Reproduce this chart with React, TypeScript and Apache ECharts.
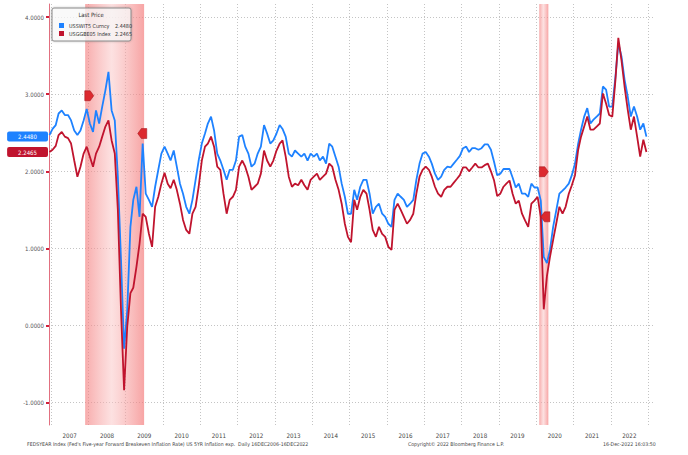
import React, { useEffect, useRef } from "react";
import * as echarts from "echarts";

// First monthly observation: Dec 2006; one value per month through Dec 2022
const START_YEAR = 2006;
const START_MONTH = 12;

// USSWIT5 Curncy (blue)
const usswit5 = [
  2.47,
  2.55, 2.6, 2.75, 2.79, 2.73, 2.73, 2.66, 2.53, 2.47, 2.53, 2.66, 2.81,
  2.62, 2.51, 2.79, 2.62, 2.84, 3.05, 3.29, 2.79, 2.66, 1.93, 0.85, -0.3,
  0.2, 1.28, 1.63, 1.8, 1.41, 2.36, 1.71, 1.63, 1.54, 1.8, 2.02, 2.23,
  2.32, 2.23, 2.14, 2.27, 2.06, 1.84, 1.71, 1.54, 1.45, 1.63, 1.89, 2.14,
  2.36, 2.49, 2.62, 2.71, 2.53, 2.23, 2.14, 2.02, 1.89, 2.02, 2.02, 2.14,
  2.45, 2.47, 2.32, 2.23, 2.06, 2.1, 2.23, 2.32, 2.6, 2.49, 2.36, 2.4,
  2.49, 2.6, 2.55, 2.45, 2.23, 2.19, 2.27, 2.23, 2.19, 2.23, 2.14, 2.23,
  2.19, 2.23, 2.14, 2.19, 2.1, 2.36, 2.32, 2.19, 2.06, 1.84, 1.67, 1.45,
  1.45, 1.76, 1.63, 1.8, 1.89, 1.89, 1.71, 1.45, 1.54, 1.58, 1.45, 1.41,
  1.32, 1.28, 1.63, 1.71, 1.67, 1.63, 1.54, 1.58, 1.63, 1.89, 2.1, 2.23,
  2.25, 2.19, 2.1, 1.97, 1.89, 1.93, 2.02, 2.06, 2.05, 2.1, 2.15, 2.2,
  2.3, 2.32, 2.25, 2.3, 2.3, 2.28, 2.3, 2.35, 2.35, 2.28, 2.12, 1.95,
  1.97, 2.03, 2.03, 2.03, 1.92, 1.79, 1.84, 1.71, 1.71, 1.67, 1.84, 1.79,
  1.79, 1.62, 0.89, 0.81, 0.98, 1.28, 1.49, 1.71, 1.75, 1.79, 1.84, 1.95,
  2.1, 2.36, 2.54, 2.71, 2.82, 2.62, 2.67, 2.71, 2.75, 3.1, 3.06, 2.84,
  2.84, 3.23, 3.66, 3.49, 3.19, 2.97, 2.71, 2.84, 2.71, 2.54, 2.62, 2.45,
];

// USGGBE05 Index (red)
const usggbe05 = [
  2.25,
  2.28, 2.33, 2.47, 2.51, 2.45, 2.43, 2.36, 2.14, 1.93, 2.06, 2.23, 2.32,
  2.19, 2.06, 2.23, 2.32, 2.45, 2.58, 2.66, 2.4, 2.23, 1.5, 0.2, -0.84,
  -0.01, 0.42, 0.49, 0.76, 1.06, 1.45, 1.41, 1.19, 1.02, 1.54, 1.67, 1.84,
  1.98, 1.84, 1.78, 1.89, 1.76, 1.58, 1.37, 1.24, 1.19, 1.45, 1.54, 1.8,
  2.14, 2.32, 2.36, 2.45, 2.32, 2.06, 2.02, 1.71, 1.45, 1.63, 1.67, 1.76,
  2.06, 2.14, 2.06, 1.93, 1.76, 1.8, 1.84, 1.97, 2.27, 2.14, 2.06, 2.14,
  2.27, 2.36, 2.4, 2.19, 1.93, 1.8, 1.84, 1.82, 1.89, 1.82, 1.76, 1.89,
  1.93, 1.97, 1.89, 1.93, 1.97, 2.1, 2.06, 1.89, 1.76, 1.58, 1.32, 1.15,
  1.08, 1.63, 1.5, 1.67, 1.76, 1.71, 1.5, 1.24, 1.15, 1.28, 1.19, 1.15,
  1.02, 0.98, 1.5, 1.58, 1.5, 1.41, 1.32, 1.37, 1.45, 1.71, 1.93, 2.02,
  2.06, 2.02, 1.93, 1.8, 1.71, 1.67, 1.76, 1.8, 1.8, 1.85, 1.9, 1.95,
  2.05, 2.05, 2.0, 2.05, 2.1, 2.05, 2.05, 2.08, 2.1, 2.0, 1.88, 1.68,
  1.71, 1.8, 1.84, 1.88, 1.71, 1.58, 1.62, 1.45, 1.36, 1.28, 1.58, 1.62,
  1.67, 1.41, 0.21, 0.64, 0.89, 1.11, 1.32, 1.54, 1.45, 1.54, 1.71, 1.82,
  1.95, 2.28, 2.45, 2.58, 2.71, 2.54, 2.54, 2.58, 2.62, 3.01, 2.88, 2.73,
  2.71, 3.19, 3.73, 3.44, 3.1, 2.8, 2.54, 2.71, 2.45, 2.19, 2.41, 2.25,
];

const blueName = "USSWIT5 Curncy";
const redName = "USGGBE05 Index";
const blueLast = 2.448;
const redLast = 2.2465;

const recessions = [
  ["2007-12-01", "2009-06-30"],
  ["2020-02-01", "2020-04-30"],
];

const eventDates = ["2008-01-10", "2009-06-12", "2020-03-17", "2020-04-01"];
const eventValues = [2.98, 2.49, 1.995, 1.41];
const eventPointsRight = [true, false, true, false];

const yearLabels = [2007, 2008, 2009, 2010, 2011, 2012, 2013, 2014, 2015, 2016, 2017, 2018, 2019, 2020, 2021, 2022];
const yTicks = [-1, 0, 1, 2, 3, 4];

const footerLeft =
  "FEDSYEAR Index (Fed's Five-year Forward Breakeven Inflation Rate) US 5YR Inflation exp.  Daily 16DEC2006-16DEC2022";
const footerMid = "Copyright\u00a9 2022 Bloomberg Finance L.P.";
const footerRight = "16-Dec-2022 16:03:50";

const FONT = "'Liberation Sans Narrow', 'Arial Narrow', 'DejaVu Sans Condensed', 'Liberation Sans', sans-serif";
const BLUE = "#1e82ff";
const RED = "#c0142e";

const PENT_RIGHT = "path://M0,0 L6,0 L10,5 L6,10 L0,10 Z";
const PENT_LEFT = "path://M4,0 L10,0 L10,10 L4,10 L0,5 Z";

function monthTs(i: number) {
  return Date.UTC(START_YEAR, START_MONTH - 1 + i, 16);
}
function ts(s: string) {
  return Date.parse(s + "T00:00:00Z");
}

export default function App() {
  const ref = useRef<HTMLDivElement>(null);

  useEffect(() => {
    if (!ref.current) return;
    const chart = echarts.init(ref.current, undefined, { renderer: "svg" });

    const blueData = usswit5.map((v, i) => [monthTs(i), v]);
    const redData = usggbe05.map((v, i) => [monthTs(i), v]);
    const yearStarts = [...yearLabels, 2023].map((y) => Date.UTC(y, 0, 1));
    const midYears = yearLabels.map((y) => Date.UTC(y, 6, 2));

    const shade = new echarts.graphic.LinearGradient(0, 0, 1, 0, [
      { offset: 0, color: "rgba(243,120,120,0.62)" },
      { offset: 0.45, color: "rgba(250,195,195,0.5)" },
      { offset: 1, color: "rgba(243,115,115,0.65)" },
    ]);

    const tagLabel = (val: number, color: string) => ({
      show: true,
      position: "start",
      distance: 1,
      formatter: val.toFixed(4),
      color: "#fff",
      backgroundColor: color,
      padding: [2, 11, 2, 11],
      borderRadius: 2,
      fontSize: 6,
      fontFamily: FONT,
    });

    chart.setOption({
      animation: false,
      backgroundColor: "#ffffff",
      grid: { left: 49, right: 33, top: 4, bottom: 30 },
      xAxis: {
        type: "value",
        min: Date.UTC(2006, 11, 12),
        max: Date.UTC(2023, 2, 10),
        axisLine: { show: false },
        axisTick: { show: false, customValues: yearStarts },
        axisLabel: {
          customValues: midYears,
          formatter: (v: number) => String(new Date(v).getUTCFullYear()),
          fontSize: 6.2,
          color: "#444",
          margin: 7,
          fontFamily: FONT,
        },
        splitLine: { show: true, lineStyle: { color: "#c4c4c4", type: [1, 2], width: 1 } },
      },
      yAxis: {
        type: "value",
        min: -1.29,
        max: 4.17,
        axisLine: { show: true, lineStyle: { color: "#e27080", width: 1 } },
        axisTick: { show: true, customValues: yTicks, length: 3, lineStyle: { color: "#d0203a", width: 2 } },
        axisLabel: {
          customValues: yTicks,
          formatter: (v: number) => v.toFixed(4),
          fontSize: 6,
          color: "#555",
          margin: 5,
          fontFamily: FONT,
        },
        splitLine: { show: true, lineStyle: { color: "#c4c4c4", type: [1, 2], width: 1 } },
      },
      legend: {
        left: 54,
        top: 18,
        orient: "vertical",
        itemWidth: 5,
        itemHeight: 5,
        itemGap: 3,
        icon: "rect",
        z: 6,
        data: [blueName, redName],
        formatter: (name: string) =>
          `{n|${name}}{v|${(name === blueName ? blueLast : redLast).toFixed(4)}}`,
        textStyle: {
          fontSize: 5.4,
          color: "#333",
          fontFamily: FONT,
          rich: {
            n: { width: 44, fontSize: 5.4, fontFamily: FONT, color: "#333" },
            v: { width: 19, align: "right", fontSize: 5.4, fontFamily: FONT, color: "#333" },
          },
        },
      },
      graphic: [
        {
          type: "rect",
          z: 5,
          shape: { x: 52, y: 8, width: 79, height: 33, r: 2 },
          style: {
            fill: "rgba(255,255,255,0.7)",
            stroke: "#8a8a8a",
            lineWidth: 1,
            shadowBlur: 2,
            shadowColor: "rgba(0,0,0,0.25)",
          },
        },
        {
          type: "text",
          z: 6,
          x: 91,
          y: 15,
          style: { text: "Last Price", fontSize: 5.8, fill: "#333", align: "center", verticalAlign: "middle", fontFamily: FONT },
        },
        {
          type: "text",
          x: 27,
          y: 444,
          style: { text: footerLeft, fontSize: 5.2, fill: "#444", verticalAlign: "middle", fontFamily: FONT },
        },
        {
          type: "text",
          x: 408,
          y: 444,
          style: { text: footerMid, fontSize: 5.2, fill: "#444", verticalAlign: "middle", fontFamily: FONT },
        },
        {
          type: "text",
          x: 603,
          y: 444,
          style: { text: footerRight, fontSize: 5.2, fill: "#444", verticalAlign: "middle", fontFamily: FONT },
        },
      ],
      series: [
        {
          name: blueName,
          type: "line",
          data: blueData,
          showSymbol: false,
          color: BLUE,
          lineStyle: { width: 1.8, color: BLUE },
          z: 2,
          markArea: {
            silent: true,
            itemStyle: { color: shade },
            data: recessions.map(([a, b]) => [{ xAxis: ts(a) }, { xAxis: ts(b) }]),
          },
          markLine: {
            silent: true,
            symbol: ["none", "none"],
            lineStyle: { color: "rgba(0,0,0,0)", width: 0 },
            data: [{ yAxis: blueLast, label: tagLabel(blueLast, BLUE) }],
          },
        },
        {
          name: redName,
          type: "line",
          data: redData,
          showSymbol: false,
          color: RED,
          lineStyle: { width: 1.8, color: RED },
          z: 3,
          markLine: {
            silent: true,
            symbol: ["none", "none"],
            lineStyle: { color: "rgba(0,0,0,0)", width: 0 },
            data: [{ yAxis: redLast, label: tagLabel(redLast, RED) }],
          },
          markPoint: {
            silent: true,
            symbolSize: [9, 10],
            label: { show: false },
            itemStyle: { color: "#dc2a2f", borderColor: "#9a1018", borderWidth: 0.5 },
            data: eventDates.map((d, i) => ({
              coord: [ts(d), eventValues[i]],
              symbol: eventPointsRight[i] ? PENT_RIGHT : PENT_LEFT,
            })),
          },
        },
      ],
    });

    return () => chart.dispose();
  }, []);

  return <div ref={ref} style={{ width: 688, height: 455, position: "absolute", left: 0, top: 0 }} />;
}
